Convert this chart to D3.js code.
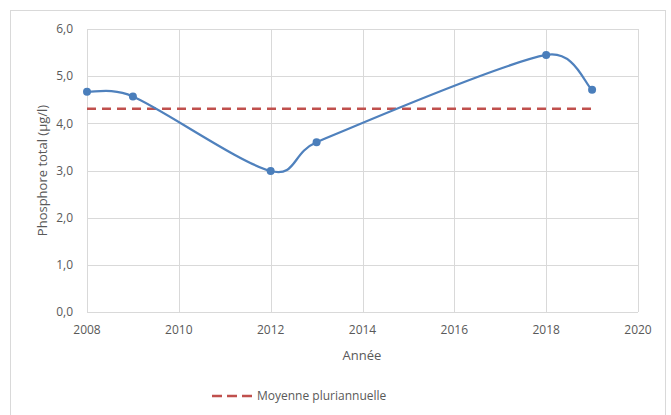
<!DOCTYPE html>
<html>
<head>
<meta charset="utf-8">
<script src="https://cdn.jsdelivr.net/npm/d3@7"></script>
<style>
  body { margin: 0; background: #fff; }
  text { font-family: "Open Sans", Lato, sans-serif; fill: #595959; }
</style>
</head>
<body>
<script>
"use strict";

// Data

const years = [2008, 2009, 2012, 2013, 2018, 2019];
const phosphore = [4.67, 4.57, 2.99, 3.60, 5.45, 4.71];
const moyenne = 4.31;
const yTicks = [0, 1, 2, 3, 4, 5, 6];
const xTicks = [2008, 2010, 2012, 2014, 2016, 2018, 2020];

const width = 671;
const height = 415;

const svg = d3.select('body')
    .append('svg')
    .attr('width', width)
    .attr('height', height);

// Chart frame
svg.append('rect')
    .attr('x', 10.5).attr('y', 10.5)
    .attr('width', 655).attr('height', 420)
    .attr('fill', 'none')
    .attr('stroke', '#d9d9d9');

const x = d3.scaleLinear().domain([2008, 2020]).range([87, 638]);
const y = d3.scaleLinear().domain([0, 6]).range([312, 29]);

const fmt = d => d.toFixed(1).replace('.', ',');

// Horizontal gridlines
svg.append('g')
    .selectAll('line')
    .data(yTicks)
    .join('line')
    .attr('x1', x(2008)).attr('x2', x(2020))
    .attr('y1', d => Math.round(y(d)) + 0.5)
    .attr('y2', d => Math.round(y(d)) + 0.5)
    .attr('stroke', '#d9d9d9');

// Vertical gridlines
svg.append('g')
    .selectAll('line')
    .data(xTicks)
    .join('line')
    .attr('x1', d => Math.round(x(d)) + 0.5)
    .attr('x2', d => Math.round(x(d)) + 0.5)
    .attr('y1', y(6)).attr('y2', y(0))
    .attr('stroke', '#d9d9d9');

// Y tick labels
svg.append('g')
    .selectAll('text')
    .data(yTicks)
    .join('text')
    .attr('x', 73)
    .attr('y', d => y(d))
    .attr('dy', '0.35em')
    .attr('text-anchor', 'end')
    .attr('font-size', 12)
    .text(fmt);

// X tick labels
svg.append('g')
    .selectAll('text')
    .data(xTicks)
    .join('text')
    .attr('x', d => x(d))
    .attr('y', 330)
    .attr('dy', '0.35em')
    .attr('text-anchor', 'middle')
    .attr('font-size', 12)
    .text(d => d);

// Axis titles
svg.append('text')
    .attr('x', 362).attr('y', 355)
    .attr('dy', '0.35em')
    .attr('text-anchor', 'middle')
    .attr('font-size', 13)
    .text('Année');

svg.append('text')
    .attr('transform', `translate(42,${y(3)}) rotate(-90)`)
    .attr('dy', '0.35em')
    .attr('text-anchor', 'middle')
    .attr('font-size', 13)
    .text('Phosphore total (µg/l)');

// Multi-year mean (dashed)
svg.append('line')
    .attr('x1', x(years[0])).attr('x2', x(years[years.length - 1]))
    .attr('y1', y(moyenne)).attr('y2', y(moyenne))
    .attr('stroke', '#c0504d')
    .attr('stroke-width', 2.5)
    .attr('stroke-dasharray', '9,6');

// Smoothed series line (spreadsheet-style: tangent/6, capped at half the segment)
const pts = phosphore.map((d, i) => [x(years[i]), y(d)]);

const smoothPath = p => {
    const path = d3.path();
    const n = p.length;
    const tangent = i => {
        const a = p[Math.max(0, i - 1)];
        const b = p[Math.min(n - 1, i + 1)];
        return [(b[0] - a[0]) / 6, (b[1] - a[1]) / 6];
    };
    const cap = (t, len) => {
        const m = Math.hypot(t[0], t[1]);
        const k = m > len / 2 ? (len / 2) / m : 1;
        return [t[0] * k, t[1] * k];
    };
    path.moveTo(p[0][0], p[0][1]);
    for (let i = 0; i < n - 1; i++) {
        const a = p[i], b = p[i + 1];
        const len = Math.hypot(b[0] - a[0], b[1] - a[1]);
        const t1 = cap(tangent(i), len);
        const t2 = cap(tangent(i + 1), len);
        path.bezierCurveTo(a[0] + t1[0], a[1] + t1[1], b[0] - t2[0], b[1] - t2[1], b[0], b[1]);
    }
    return path.toString();
};

svg.append('path')
    .attr('d', smoothPath(pts))
    .attr('fill', 'none')
    .attr('stroke', '#4f81bd')
    .attr('stroke-width', 2.25);

svg.append('g')
    .selectAll('circle')
    .data(phosphore)
    .join('circle')
    .attr('cx', (d, i) => x(years[i]))
    .attr('cy', d => y(d))
    .attr('r', 4)
    .attr('fill', '#4a7ebb');

// Legend
svg.append('line')
    .attr('x1', 212).attr('x2', 252)
    .attr('y1', 396).attr('y2', 396)
    .attr('stroke', '#c0504d')
    .attr('stroke-width', 2.5)
    .attr('stroke-dasharray', '10,5');

svg.append('text')
    .attr('x', 257).attr('y', 396)
    .attr('dy', '0.35em')
    .attr('font-size', 12)
    .text('Moyenne pluriannuelle');
</script>
</body>
</html>
